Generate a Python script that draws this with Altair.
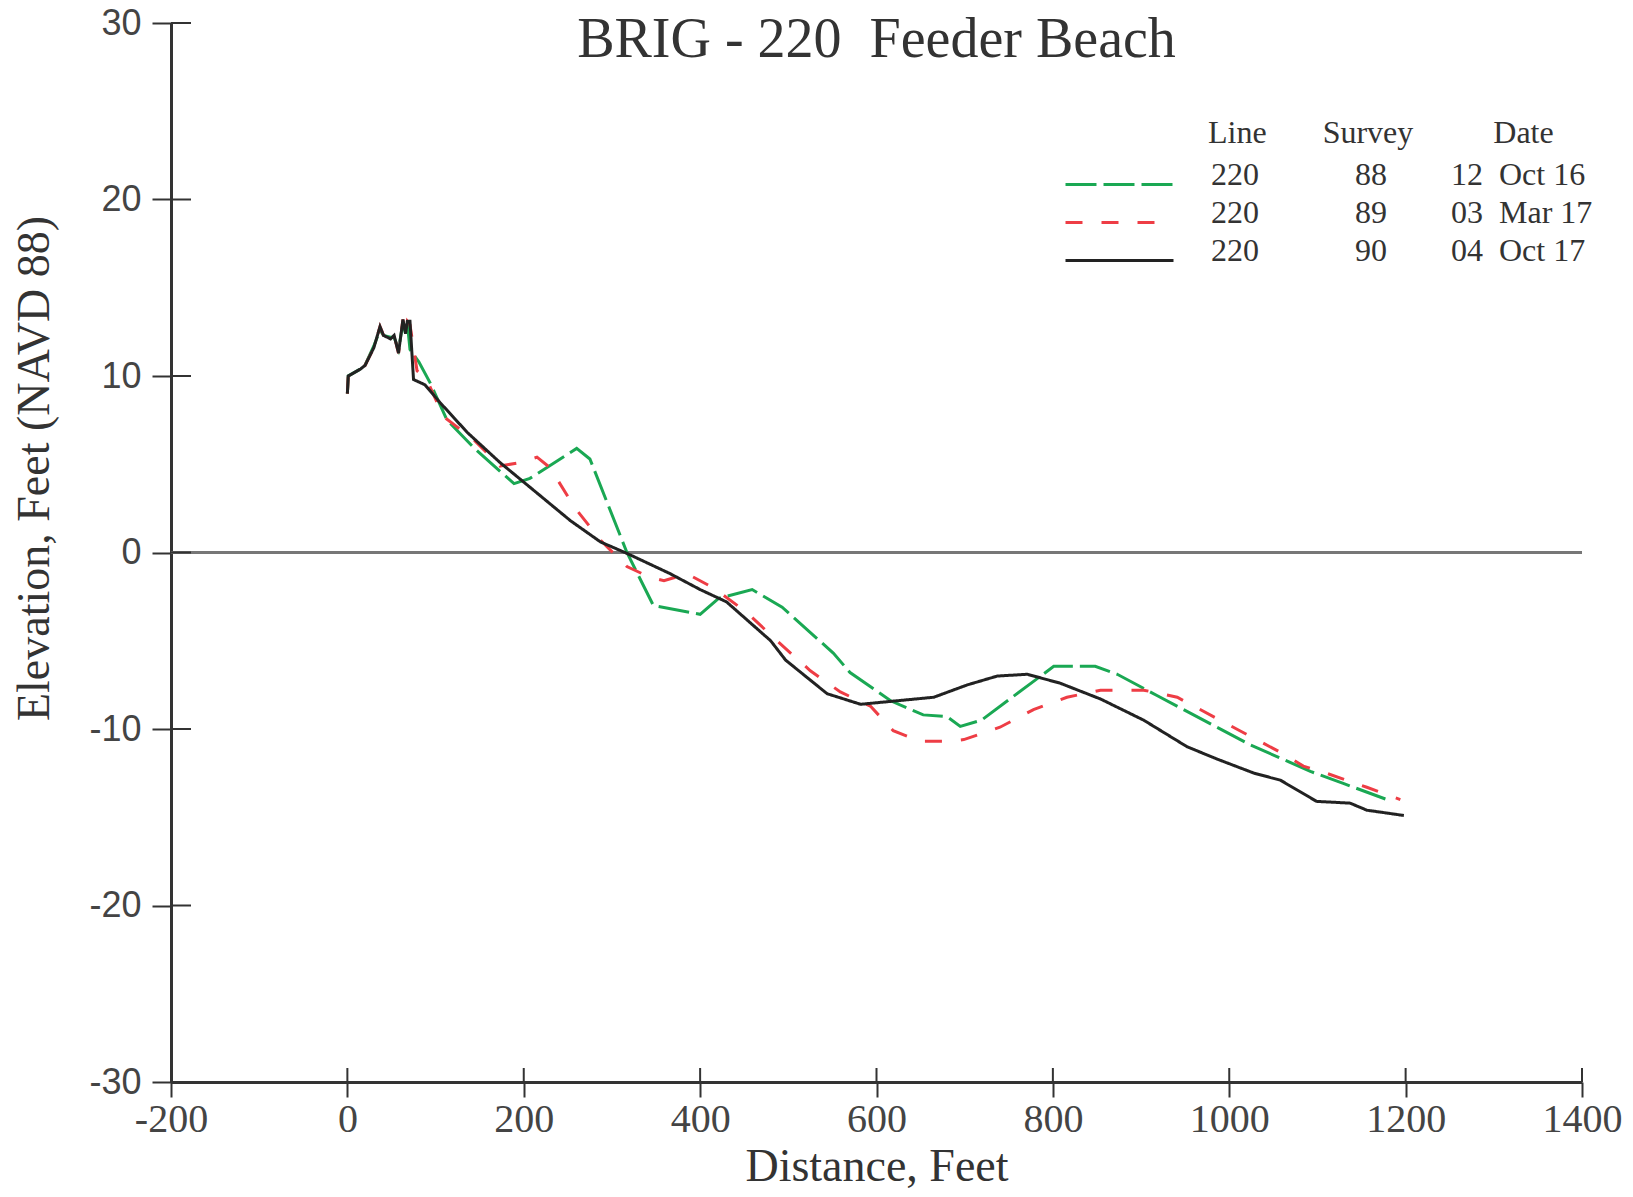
import altair as alt
import pandas as pd

NB = "\u00a0"
ZW = "\u200b"

# ---------------- data ----------------
chart_title = ["BRIG - 220" + NB + " Feeder Beach"]

dist_88 = [0, 1, 15, 20, 30, 37, 41, 49, 53, 58, 63, 66, 68, 71, 81, 94, 113, 144, 189, 207,
           260, 275, 317, 347, 400, 421, 459, 493, 551, 570, 616, 653, 680, 695, 719, 801,
           848, 873, 918, 986, 1024, 1092, 1130, 1179]
elev_88 = [9.0, 10.0, 10.4, 10.6, 11.7, 12.6, 12.3, 12.2, 12.2, 11.5, 13.0, 12.4, 13.0, 11.5,
           10.8, 9.6, 7.5, 5.9, 3.9, 4.2, 5.9, 5.3, 0.0, -3.0, -3.5, -2.6, -2.1, -3.1, -5.7,
           -6.8, -8.4, -9.2, -9.3, -9.85, -9.5, -6.45, -6.45, -6.9, -8.1, -9.9, -10.9, -12.4,
           -13.1, -14.0]

dist_89 = [0, 1, 15, 20, 30, 37, 41, 49, 53, 58, 63, 66, 68, 71, 79, 90, 109, 143, 173, 196,
           215, 230, 257, 287, 317, 343, 359, 385, 415, 453, 487, 525, 559, 593, 619, 650,
           680, 699, 740, 778, 816, 854, 880, 903, 941, 1012, 1061, 1084, 1110, 1156, 1194]
elev_89 = [9.0, 10.0, 10.4, 10.6, 11.6, 12.8, 12.3, 12.1, 12.3, 11.3, 13.2, 12.4, 13.1, 12.9,
           10.3, 9.8, 7.7, 6.4, 4.9, 5.1, 5.4, 4.8, 2.6, 0.7, -0.8, -1.4, -1.6, -1.2, -2.0,
           -3.4, -5.0, -6.7, -7.9, -8.7, -10.1, -10.7, -10.7, -10.6, -9.9, -8.9, -8.2, -7.8,
           -7.8, -7.8, -8.2, -10.1, -11.4, -12.1, -12.5, -13.3, -14.0]

dist_90 = [0, 1, 15, 20, 30, 37, 41, 49, 53, 58, 63, 66, 68, 71, 75, 88, 105, 136, 173, 207,
           253, 287, 317, 366, 400, 430, 480, 497, 544, 582, 665, 703, 737, 771, 808, 854,
           903, 952, 986, 1028, 1058, 1099, 1137, 1156, 1198]
elev_90 = [9.0, 10.0, 10.4, 10.6, 11.6, 12.8, 12.3, 12.1, 12.3, 11.3, 13.2, 12.4, 13.1, 13.1,
           9.8, 9.5, 8.5, 6.8, 5.1, 3.7, 1.8, 0.6, -0.05, -1.2, -2.1, -2.8, -5.0, -6.1, -8.0,
           -8.6, -8.2, -7.5, -7.0, -6.9, -7.4, -8.3, -9.5, -11.0, -11.7, -12.5, -12.9, -14.1,
           -14.2, -14.6, -14.9]

line_ids = ["220", "220", "220"]
surveys = ["88", "89", "90"]
dates = ["12 Oct 16", "03 Mar 17", "04 Oct 17"]

x_ticks = [-200, 0, 200, 400, 600, 800, 1000, 1200, 1400]
y_ticks = [-30, -20, -10, 0, 10, 20, 30]

# ---------------- build table ----------------
def label(i):
    d, rest = dates[i].split(" ", 1)
    return line_ids[i] + NB * 12 + surveys[i] + NB * 8 + d + NB * 2 + rest.replace(" ", NB)

labels = [label(i) for i in range(3)]
rows = []
for lab, xs, ys in zip(labels, [dist_88, dist_89, dist_90], [elev_88, elev_89, elev_90]):
    for xv, yv in zip(xs, ys):
        rows.append({"series": lab, "dist": xv, "elev": yv})
df = pd.DataFrame(rows)

W, H = 1411, 1059
SERIF = "Liberation Serif"
SANS = "Liberation Sans"
TXT = "#333333"

xscale = alt.Scale(domain=[-200, 1400], nice=False, zero=False)
yscale = alt.Scale(domain=[-30, 30], nice=False, zero=False)

legend_title = ZW + NB * 18 + "Line" + NB * 7 + "Survey" + NB * 10 + "Date"
legend = alt.Legend(
    orient="none", legendX=893, legendY=95, padding=0,
    title=legend_title, titleFont=SERIF, titleFontSize=32, titleFontWeight="normal",
    titleColor=TXT, titlePadding=19, titleLimit=800,
    labelFont=SERIF, labelFontSize=32, labelColor=TXT, labelOffset=36, labelLimit=800,
    labelBaseline="alphabetic",
    symbolType="stroke", symbolSize=11664, symbolStrokeWidth=3,
    clipHeight=31, rowPadding=-4,
)

xaxis = alt.Axis(
    values=x_ticks, title="Distance, Feet", titleFont=SERIF, titleFontSize=46,
    titleFontWeight="normal", titleColor=TXT, titleBaseline="alphabetic", titleY=98,
    labelFont=SERIF, labelFontSize=40, labelColor="#444444", labelPadding=2,
    labelExpr="'' + datum.value", labelFlush=False, labelOverlap=False,
    tickSize=15, tickWidth=2, tickColor=TXT, domainColor=TXT, domainWidth=3, grid=False,
)
yaxis = alt.Axis(
    values=y_ticks, title="Elevation, Feet (NAVD 88)", titleFont=SERIF, titleFontSize=46,
    titleFontWeight="normal", titleColor=TXT, titleAngle=270, titleBaseline="alphabetic",
    titleAlign="center", titleX=-123, titleY=445,
    labelFont=SANS, labelFontSize=36, labelColor="#444444", labelPadding=11,
    labelExpr="'' + datum.value", labelFlush=False, labelOverlap=False,
    tickSize=19, tickWidth=2, tickColor=TXT, domainColor=TXT, domainWidth=3, grid=False,
)

zero = alt.Chart(df).mark_rule(color="#777777", strokeWidth=2).encode(
    y=alt.datum(0, scale=yscale, axis=yaxis))

lines = alt.Chart(df).mark_line(strokeWidth=3).encode(
    x=alt.X("dist:Q", scale=xscale, axis=xaxis),
    y=alt.Y("elev:Q", scale=yscale, axis=yaxis),
    color=alt.Color("series:N", scale=alt.Scale(domain=labels, range=["#1aa853", "#ee3d45", "#222222"]),
                    legend=legend),
    strokeDash=alt.StrokeDash("series:N", scale=alt.Scale(domain=labels, range=[[31, 7], [17, 19], [1, 0]]),
                              legend=legend),
    order=alt.Order("dist:Q"),
)

ytk = alt.Chart(pd.DataFrame({"elev": y_ticks})).mark_rule(color=TXT, strokeWidth=2).encode(
    y=alt.Y("elev:Q", scale=yscale, axis=yaxis), x=alt.value(0), x2=alt.value(20))
xtk = alt.Chart(pd.DataFrame({"dist": x_ticks})).mark_rule(color=TXT, strokeWidth=2).encode(
    x=alt.X("dist:Q", scale=xscale, axis=xaxis), y=alt.value(H), y2=alt.value(H - 14))

ttl = alt.Chart(pd.DataFrame({"t": chart_title})).mark_text(
    font=SERIF, fontSize=56, color=TXT, align="center", baseline="alphabetic"
).encode(text="t:N", x=alt.value(W / 2), y=alt.value(34))

chart = alt.layer(zero, lines, ytk, xtk, ttl).properties(
    width=W, height=H,
    autosize=alt.AutoSizeParams(type="none"),
    padding={"left": 163, "top": 15, "right": 42, "bottom": 107},
).configure_view(strokeWidth=0)

chart.save("out.html", embed_options={"renderer": "svg", "actions": False})
